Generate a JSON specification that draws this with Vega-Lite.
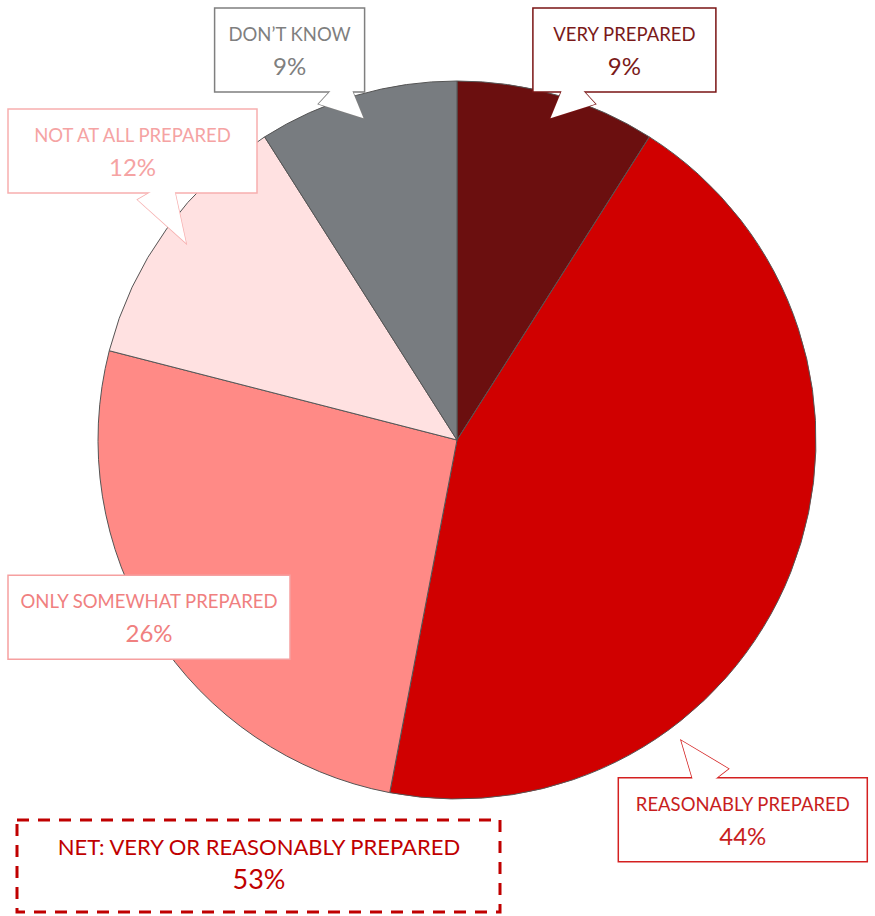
{
  "$schema": "https://vega.github.io/schema/vega-lite/v6.json",
  "width": 875,
  "height": 916,
  "padding": 0,
  "autosize": {"type": "none"},
  "background": "white",
  "config": {"view": {"stroke": null}, "font": "Lato"},
  "data": {
    "values": [
      {"response": "Very prepared", "pct": 9},
      {"response": "Reasonably prepared", "pct": 44},
      {"response": "Only somewhat prepared", "pct": 26},
      {"response": "Not at all prepared", "pct": 12},
      {"response": "Don’t know", "pct": 9}
    ]
  },
  "transform": [
    {"window": [{"op": "row_number", "as": "idx"}]},
    {"window": [{"op": "sum", "field": "pct", "as": "cum"}], "sort": [{"field": "idx"}], "frame": [null, 0]},
    {"calculate": "2*PI*(datum.cum - datum.pct*(datum.pct>40?0.3:0.5))/100", "as": "mid"},
    {"calculate": "datum.pct>40?478:600", "as": "Rx"},
    {"calculate": "datum.pct>40?530:415", "as": "Ry"},
    {"calculate": "upper(datum.response)", "as": "lab"},
    {"calculate": "datum.pct + '%'", "as": "pctLabel"},
    {"calculate": "length(datum.lab)*11+40", "as": "w"},
    {"calculate": "clamp(datum.Rx*sin(datum.mid), -449 + datum.w/2, 420 - datum.w/2)", "as": "lx"},
    {"calculate": "clamp(datum.Ry*cos(datum.mid) + 45, -430, 390)", "as": "ly"},
    {"calculate": "datum.lx - datum.w/2", "as": "bx1"},
    {"calculate": "datum.lx + datum.w/2", "as": "bx2"},
    {"calculate": "datum.ly - 42", "as": "by1"},
    {"calculate": "datum.ly + 42", "as": "by2"},
    {"calculate": "datum.ly + 15", "as": "ty1"},
    {"calculate": "datum.ly - 18", "as": "ty2"},
    {"calculate": "(datum.pct>40?375:335)*sin(datum.mid)", "as": "tipx"},
    {"calculate": "(datum.pct>40?375:335)*cos(datum.mid)", "as": "tipy"},
    {"calculate": "(datum.tipx - datum.lx)/sqrt(pow(datum.tipx - datum.lx, 2) + pow(datum.tipy - datum.ly, 2))", "as": "ux"},
    {"calculate": "(datum.tipy - datum.ly)/sqrt(pow(datum.tipx - datum.lx, 2) + pow(datum.tipy - datum.ly, 2))", "as": "uy"},
    {"calculate": "min(abs(datum.ux) > 0.001 ? (datum.w/2)/abs(datum.ux) : 100000, abs(datum.uy) > 0.001 ? 42/abs(datum.uy) : 100000) - 4", "as": "te"},
    {"calculate": "datum.lx + datum.te*datum.ux - 20*datum.uy", "as": "b1x"},
    {"calculate": "datum.ly + datum.te*datum.uy + 20*datum.ux", "as": "b1y"},
    {"calculate": "datum.lx + datum.te*datum.ux + 20*datum.uy", "as": "b2x"},
    {"calculate": "datum.ly + datum.te*datum.uy - 20*datum.ux", "as": "b2y"}
  ],
  "layer": [
    {
      "mark": {"type": "arc", "radius": 359, "stroke": "#555555", "strokeWidth": 1},
      "encoding": {
        "x": {"datum": 0, "type": "quantitative", "scale": {"domain": [-457, 418], "nice": false, "zero": false}, "axis": null},
        "y": {"datum": 0, "type": "quantitative", "scale": {"domain": [-476, 440], "nice": false, "zero": false}, "axis": null},
        "theta": {"field": "pct", "type": "quantitative", "stack": true},
        "order": {"field": "idx", "type": "quantitative", "sort": "ascending"},
        "color": {
          "field": "response",
          "type": "nominal",
          "scale": {
            "domain": ["Very prepared", "Reasonably prepared", "Only somewhat prepared", "Not at all prepared", "Don’t know"],
            "range": ["#6B0F0F", "#D00000", "#FF8A86", "#FFE1E1", "#787C80"]
          },
          "legend": null
        }
      }
    },
    {
      "transform": [
        {"fold": ["tipx", "b1x", "b2x"], "as": ["pt", "px"]},
        {"calculate": "datum.pt == 'tipx' ? datum.tipy : (datum.pt == 'b1x' ? datum.b1y : datum.b2y)", "as": "py"}
      ],
      "mark": {"type": "line", "interpolate": "linear-closed", "fill": "white", "strokeWidth": 1.5},
      "encoding": {
        "x": {"field": "px", "type": "quantitative", "scale": {"domain": [-457, 418], "nice": false, "zero": false}, "axis": null},
        "y": {"field": "py", "type": "quantitative", "scale": {"domain": [-476, 440], "nice": false, "zero": false}, "axis": null},
        "order": {"field": "pt"},
        "detail": {"field": "response"},
        "stroke": {
          "field": "response",
          "type": "nominal",
          "scale": {
            "domain": ["Very prepared", "Reasonably prepared", "Only somewhat prepared", "Not at all prepared", "Don’t know"],
            "range": ["#7A1414", "#D42020", "#F6A0A0", "#F7AFAF", "#7F7F7F"]
          },
          "legend": null
        }
      }
    },
    {
      "mark": {"type": "rect", "fill": "white", "strokeWidth": 1.5},
      "encoding": {
        "x": {"field": "bx1", "type": "quantitative", "scale": {"domain": [-457, 418], "nice": false, "zero": false}, "axis": null},
        "x2": {"field": "bx2"},
        "y": {"field": "by1", "type": "quantitative", "scale": {"domain": [-476, 440], "nice": false, "zero": false}, "axis": null},
        "y2": {"field": "by2"},
        "stroke": {
          "field": "response",
          "type": "nominal",
          "scale": {
            "domain": ["Very prepared", "Reasonably prepared", "Only somewhat prepared", "Not at all prepared", "Don’t know"],
            "range": ["#7A1414", "#D42020", "#F6A0A0", "#F7AFAF", "#7F7F7F"]
          },
          "legend": null
        }
      }
    },
    {
      "transform": [
        {"fold": ["tipx", "b1x", "b2x"], "as": ["pt", "px"]},
        {"calculate": "datum.pt == 'tipx' ? datum.tipy : (datum.pt == 'b1x' ? datum.b1y : datum.b2y)", "as": "py"}
      ],
      "mark": {"type": "line", "interpolate": "linear-closed", "fill": "white", "stroke": null, "strokeWidth": 0},
      "encoding": {
        "x": {"field": "px", "type": "quantitative", "scale": {"domain": [-457, 418], "nice": false, "zero": false}, "axis": null},
        "y": {"field": "py", "type": "quantitative", "scale": {"domain": [-476, 440], "nice": false, "zero": false}, "axis": null},
        "order": {"field": "pt"},
        "detail": {"field": "response"}
      }
    },
    {
      "mark": {"type": "text", "fontSize": 18.5, "baseline": "middle", "align": "center"},
      "encoding": {
        "x": {"field": "lx", "type": "quantitative", "scale": {"domain": [-457, 418], "nice": false, "zero": false}, "axis": null},
        "y": {"field": "ty1", "type": "quantitative", "scale": {"domain": [-476, 440], "nice": false, "zero": false}, "axis": null},
        "text": {"field": "lab"},
        "fill": {
          "field": "response",
          "type": "nominal",
          "scale": {
            "domain": ["Very prepared", "Reasonably prepared", "Only somewhat prepared", "Not at all prepared", "Don’t know"],
            "range": ["#7A1A1A", "#C81E1E", "#F08080", "#F5A3A3", "#7F7F7F"]
          },
          "legend": null
        }
      }
    },
    {
      "mark": {"type": "text", "fontSize": 24, "baseline": "middle", "align": "center"},
      "encoding": {
        "x": {"field": "lx", "type": "quantitative", "scale": {"domain": [-457, 418], "nice": false, "zero": false}, "axis": null},
        "y": {"field": "ty2", "type": "quantitative", "scale": {"domain": [-476, 440], "nice": false, "zero": false}, "axis": null},
        "text": {"field": "pctLabel"},
        "fill": {
          "field": "response",
          "type": "nominal",
          "scale": {
            "domain": ["Very prepared", "Reasonably prepared", "Only somewhat prepared", "Not at all prepared", "Don’t know"],
            "range": ["#7A1A1A", "#C81E1E", "#F08080", "#F5A3A3", "#7F7F7F"]
          },
          "legend": null
        }
      }
    },
    {
      "transform": [
        {"filter": "datum.idx <= 2"},
        {"aggregate": [{"op": "sum", "field": "pct", "as": "net"}]},
        {"calculate": "datum.net + '%'", "as": "netLabel"}
      ],
      "layer": [
        {
          "mark": {"type": "rect", "fill": "white", "stroke": "#C00000", "strokeWidth": 3, "strokeDash": [12, 9]},
          "encoding": {
            "x": {"datum": -440, "type": "quantitative", "scale": {"domain": [-457, 418], "nice": false, "zero": false}, "axis": null},
            "x2": {"datum": 43},
            "y": {"datum": -380, "type": "quantitative", "scale": {"domain": [-476, 440], "nice": false, "zero": false}, "axis": null},
            "y2": {"datum": -472}
          }
        },
        {
          "mark": {"type": "text", "fontSize": 22, "baseline": "middle", "align": "center", "fill": "#C00000"},
          "encoding": {
            "x": {"datum": -198, "type": "quantitative", "scale": {"domain": [-457, 418], "nice": false, "zero": false}, "axis": null},
            "y": {"datum": -408, "type": "quantitative", "scale": {"domain": [-476, 440], "nice": false, "zero": false}, "axis": null},
            "text": {"value": "NET: VERY OR REASONABLY PREPARED"}
          }
        },
        {
          "mark": {"type": "text", "fontSize": 27, "baseline": "middle", "align": "center", "fill": "#C00000"},
          "encoding": {
            "x": {"datum": -198, "type": "quantitative", "scale": {"domain": [-457, 418], "nice": false, "zero": false}, "axis": null},
            "y": {"datum": -441, "type": "quantitative", "scale": {"domain": [-476, 440], "nice": false, "zero": false}, "axis": null},
            "text": {"field": "netLabel"}
          }
        }
      ]
    }
  ]
}
